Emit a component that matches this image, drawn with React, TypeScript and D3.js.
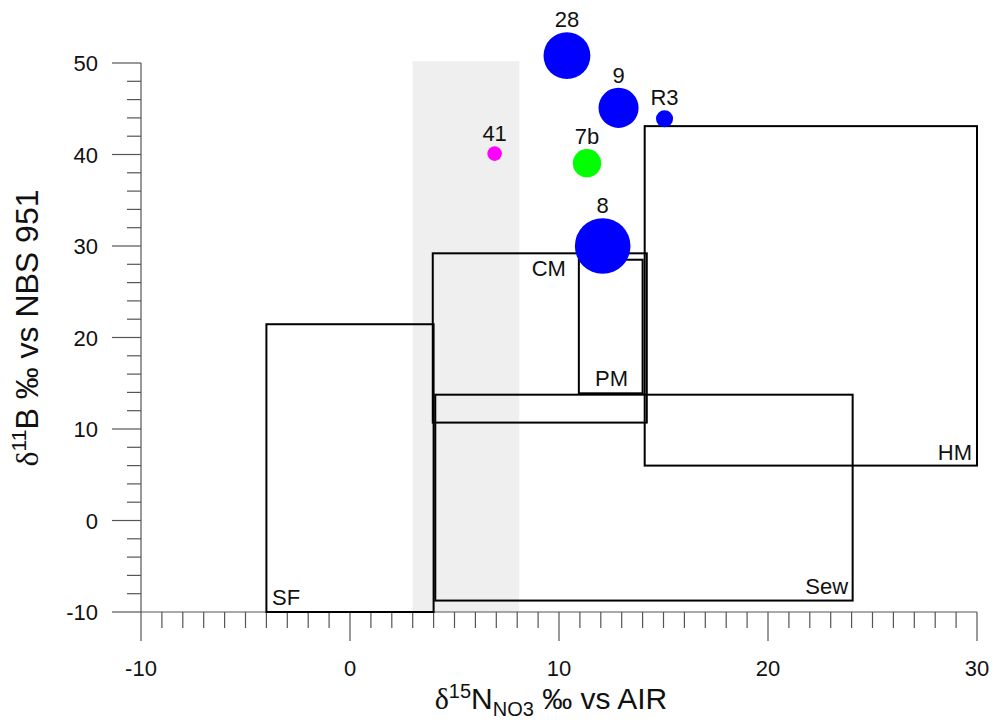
import React from "react";
import * as d3 from "d3";

// ---- data ----
const xTicks = [-10, 0, 10, 20, 30];
const yTicks = [-10, 0, 10, 20, 30, 40, 50];

const boxNames = ["SF", "CM", "PM", "Sew", "HM"];
const boxX0 = [-4, 3.96, 10.95, 4.08, 14.1];
const boxX1 = [4, 14.2, 14.0, 24.05, 30];
const boxY0 = [-10, 10.7, 13.9, -8.75, 6];
const boxY1 = [21.45, 29.2, 28.5, 13.75, 43.1];
const boxLabelX = [-3.73, 10.33, 13.3, 23.83, 29.76];
const boxLabelY = [-9.23, 26.72, 14.7, -8.03, 6.61];
const boxLabelAnchor = ["start", "end", "end", "end", "end"];

const bandX = [3, 8.1];
const bandY = [-10, 50.2];

const ptNames = ["28", "9", "R3", "41", "7b", "8"];
const ptX = [10.38, 12.85, 15.05, 6.92, 11.34, 12.09];
const ptY = [50.8, 45.1, 43.9, 40.1, 39.05, 30.0];
const ptSize = [71, 52, 9.4, 6.9, 26, 100];
const ptColor = ["#0000ff", "#0000ff", "#0000ff", "#ff00ff", "#00ff00", "#0000ff"];

const FONT = "'Liberation Sans', Arial, sans-serif";
const SERIF = "'Liberation Serif', 'DejaVu Serif', serif";

export default function App() {
  const W = 993, H = 722;
  const x = d3.scaleLinear().domain([-10, 30]).range([141, 977]);
  const y = d3.scaleLinear().domain([-10, 50]).range([612, 63]);
  const r = d3.scaleSqrt().domain([0, 100]).range([0, 27.8]);

  const xMinor = d3.range(-10, 30.001, 1).filter((v) => !xTicks.includes(v));
  const yMinor = d3.range(-10, 50.001, 2).filter((v) => !yTicks.includes(v));
  const axisColor = "#555";

  return (
    <svg width={W} height={H} style={{ position: "absolute", left: 0, top: 0 }} fontFamily={FONT}>
      <rect x={0} y={0} width={W} height={H} fill="#fff" />
      {/* grey band */}
      <rect
        x={x(bandX[0])}
        y={y(bandY[1])}
        width={x(bandX[1]) - x(bandX[0])}
        height={y(bandY[0]) - y(bandY[1])}
        fill="#efefef"
      />
      {/* axes */}
      <line x1={x(-10)} x2={x(30)} y1={y(-10)} y2={y(-10)} stroke={axisColor} strokeWidth={1.2} />
      <line x1={x(-10)} x2={x(-10)} y1={y(-10)} y2={y(50)} stroke={axisColor} strokeWidth={1.2} />
      {xTicks.map((t) => (
        <g key={"xt" + t}>
          <line x1={x(t)} x2={x(t)} y1={y(-10)} y2={y(-10) + 29} stroke={axisColor} strokeWidth={1.2} />
          <text x={x(t)} y={676} textAnchor="middle" fontSize={22} fill="#111">{t}</text>
        </g>
      ))}
      {xMinor.map((t) => (
        <line key={"xm" + t} x1={x(t)} x2={x(t)} y1={y(-10)} y2={y(-10) + 16} stroke={axisColor} strokeWidth={1.2} />
      ))}
      {yTicks.map((t) => (
        <g key={"yt" + t}>
          <line x1={x(-10) - 29} x2={x(-10)} y1={y(t)} y2={y(t)} stroke={axisColor} strokeWidth={1.2} />
          <text x={98} y={y(t) + 8} textAnchor="end" fontSize={22} fill="#111">{t}</text>
        </g>
      ))}
      {yMinor.map((t) => (
        <line key={"ym" + t} x1={x(-10) - 14} x2={x(-10)} y1={y(t)} y2={y(t)} stroke={axisColor} strokeWidth={1.2} />
      ))}
      {/* boxes */}
      {boxNames.map((n, i) => (
        <rect
          key={"b" + n}
          x={x(boxX0[i])}
          y={y(boxY1[i])}
          width={x(boxX1[i]) - x(boxX0[i])}
          height={y(boxY0[i]) - y(boxY1[i])}
          fill="none"
          stroke="#000"
          strokeWidth={2}
        />
      ))}
      {boxNames.map((n, i) => (
        <text
          key={"bl" + n}
          x={x(boxLabelX[i])}
          y={y(boxLabelY[i])}
          textAnchor={boxLabelAnchor[i]}
          fontSize={22}
          fill="#111"
        >
          {n}
        </text>
      ))}
      {/* points */}
      {ptNames.map((n, i) => (
        <circle key={"p" + n} cx={x(ptX[i])} cy={y(ptY[i])} r={r(ptSize[i])} fill={ptColor[i]} />
      ))}
      {ptNames.map((n, i) => (
        <text
          key={"pl" + n}
          x={x(ptX[i])}
          y={y(ptY[i]) - r(ptSize[i]) - 5}
          textAnchor="middle"
          fontSize={22}
          fill="#111"
        >
          {n}
        </text>
      ))}
      {/* axis titles */}
      <text x={551} y={709} textAnchor="middle" fontSize={30} fill="#111">
        <tspan fontFamily={SERIF}>δ</tspan>
        <tspan fontSize={20} dy={-11}>15</tspan>
        <tspan dy={11}>N</tspan>
        <tspan fontSize={20} dy={7}>NO3</tspan>
        <tspan dy={-7}> ‰ vs AIR</tspan>
      </text>
      <text
        transform={`translate(38,328) rotate(-90)`}
        textAnchor="middle"
        fontSize={32}
        fill="#111"
      >
        <tspan fontFamily={SERIF}>δ</tspan>
        <tspan fontSize={21} dy={-12}>11</tspan>
        <tspan dy={12}>B ‰ vs NBS 951</tspan>
      </text>
    </svg>
  );
}
